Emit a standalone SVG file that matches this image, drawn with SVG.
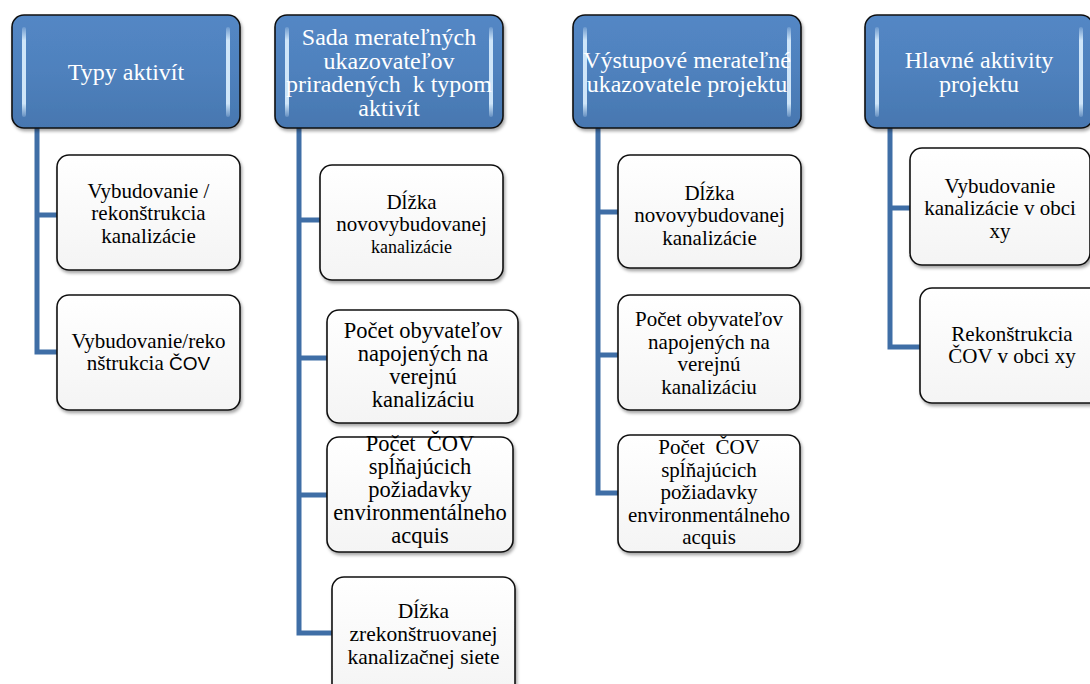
<svg xmlns="http://www.w3.org/2000/svg" width="1090" height="684" viewBox="0 0 1090 684">
<defs>
<linearGradient id="hdrFill" x1="0" y1="0" x2="0" y2="1">
<stop offset="0" stop-color="#5387C5"/>
<stop offset="0.5" stop-color="#4F81BD"/>
<stop offset="1" stop-color="#4777B0"/>
</linearGradient>
<linearGradient id="gloss" x1="0" y1="0" x2="0" y2="1">
<stop offset="0" stop-color="#D6EBFC" stop-opacity="0.2"/>
<stop offset="0.15" stop-color="#D6EBFC" stop-opacity="0.95"/>
<stop offset="0.85" stop-color="#D6EBFC" stop-opacity="0.95"/>
<stop offset="1" stop-color="#D6EBFC" stop-opacity="0.2"/>
</linearGradient>
<linearGradient id="childFill" x1="0" y1="0" x2="0" y2="1">
<stop offset="0" stop-color="#FFFFFF"/>
<stop offset="1" stop-color="#F4F4F4"/>
</linearGradient>
<filter id="shadow" x="-10%" y="-10%" width="125%" height="130%">
<feDropShadow dx="1.5" dy="2.5" stdDeviation="1.8" flood-color="#000" flood-opacity="0.35"/>
</filter>
</defs>
<style>
.hdr{fill:url(#hdrFill);stroke:#111;stroke-width:1.6;filter:url(#shadow)}
.gl{fill:url(#gloss)}
.box{fill:url(#childFill);stroke:#111;stroke-width:1.6;filter:url(#shadow)}
.ht{font-family:"Liberation Serif","Times New Roman",serif;font-size:24px;fill:#FFFFFF;text-anchor:middle;white-space:pre}
.ct{font-family:"Liberation Serif","Times New Roman",serif;font-size:21px;fill:#000;text-anchor:middle;white-space:pre}
.big{font-size:22.5px}
.mid{font-size:21.5px}
.sm{font-size:18px}
.sans{font-family:"Liberation Sans",Arial,sans-serif;font-size:19px}
.con{fill:none;stroke:#3F6EA6;stroke-width:5;stroke-linejoin:miter}
</style>
<rect width="1090" height="684" fill="#FFFFFF"/>

<g id="connectors">
<path class="con" d="M37,128 V352 H57 M37,215 H57"/>
<path class="con" d="M299,128 V633 H332 M299,220 H320 M299,358 H327 M299,495 H327"/>
<path class="con" d="M598,128 V493 H618 M598,212 H618 M598,355 H618"/>
<path class="con" d="M890,128 V347 H920 M890,208 H910"/>
</g>

<g id="h1">
<rect class="hdr" x="12" y="15" width="228" height="113" rx="12"/>
<rect class="gl" x="22" y="27" width="4" height="90" rx="2"/>
<rect class="gl" x="226" y="27" width="4" height="90" rx="2"/>
<text class="ht" x="126" y="80">Typy aktivít</text>
</g>
<g id="h2">
<rect class="hdr" x="275" y="15" width="228" height="113" rx="12"/>
<rect class="gl" x="285" y="27" width="4" height="90" rx="2"/>
<rect class="gl" x="489" y="27" width="4" height="90" rx="2"/>
<text class="ht" x="389" y="45">Sada merateľných</text>
<text class="ht" x="389" y="68.5">ukazovateľov</text>
<text class="ht" x="389" y="92">priradených  k typom</text>
<text class="ht" x="389" y="115.5">aktivít</text>
</g>
<g id="h3">
<rect class="hdr" x="573" y="15" width="228" height="113" rx="12"/>
<rect class="gl" x="583" y="27" width="4" height="90" rx="2"/>
<rect class="gl" x="787" y="27" width="4" height="90" rx="2"/>
<text class="ht" x="687" y="68">Výstupové merateľné</text>
<text class="ht" x="687" y="91.5">ukazovatele projektu</text>
</g>
<g id="h4">
<rect class="hdr" x="865" y="15" width="228" height="113" rx="12"/>
<rect class="gl" x="875" y="27" width="4" height="90" rx="2"/>
<rect class="gl" x="1079" y="27" width="4" height="90" rx="2"/>
<text class="ht" x="979" y="68">Hlavné aktivity</text>
<text class="ht" x="979" y="91.5">projektu</text>
</g>

<g id="c1a">
<rect class="box" x="57" y="155" width="183" height="115" rx="12"/>
<text class="ct" x="148.5" y="197.5">Vybudovanie /</text>
<text class="ct" x="148.5" y="220">rekonštrukcia</text>
<text class="ct" x="148.5" y="242.5">kanalizácie</text>
</g>
<g id="c1b">
<rect class="box" x="57" y="295" width="183" height="115" rx="12"/>
<text class="ct" x="148.5" y="347.5">Vybudovanie/reko</text>
<text class="ct" x="148.5" y="370">nštrukcia <tspan class="sans">ČOV</tspan></text>
</g>

<g id="c2a">
<rect class="box" x="320" y="165" width="183" height="115" rx="12"/>
<text class="ct" x="411.5" y="208.5">Dĺžka</text>
<text class="ct" x="411.5" y="231">novovybudovanej</text>
<text class="ct sm" x="411.5" y="253">kanalizácie</text>
</g>
<g id="c2b">
<rect class="box" x="327" y="310" width="191" height="113" rx="12"/>
<text class="ct big" x="423" y="338">Počet obyvateľov</text>
<text class="ct big" x="423" y="361">napojených na</text>
<text class="ct big" x="423" y="384">verejnú</text>
<text class="ct big" x="423" y="407">kanalizáciu</text>
</g>
<g id="c2c">
<rect class="box" x="327" y="437" width="186" height="115" rx="12"/>
<text class="ct big" x="420" y="451">Počet  ČOV</text>
<text class="ct big" x="420" y="474">spĺňajúcich</text>
<text class="ct big" x="420" y="497">požiadavky</text>
<text class="ct big" x="420" y="520">environmentálneho</text>
<text class="ct big" x="420" y="543">acquis</text>
</g>
<g id="c2d">
<rect class="box" x="332" y="577" width="183" height="120" rx="12"/>
<text class="ct mid" x="423.5" y="618">Dĺžka</text>
<text class="ct mid" x="423.5" y="641">zrekonštruovanej</text>
<text class="ct mid" x="423.5" y="664">kanalizačnej siete</text>
</g>

<g id="c3a">
<rect class="box" x="618" y="155" width="183" height="113" rx="12"/>
<text class="ct" x="709.5" y="199.5">Dĺžka</text>
<text class="ct" x="709.5" y="222">novovybudovanej</text>
<text class="ct" x="709.5" y="244.5">kanalizácie</text>
</g>
<g id="c3b">
<rect class="box" x="618" y="295" width="182" height="115" rx="12"/>
<text class="ct" x="709" y="326">Počet obyvateľov</text>
<text class="ct" x="709" y="348.5">napojených na</text>
<text class="ct" x="709" y="371">verejnú</text>
<text class="ct" x="709" y="393.5">kanalizáciu</text>
</g>
<g id="c3c">
<rect class="box" x="618" y="435" width="182" height="117" rx="12"/>
<text class="ct" x="709" y="454">Počet  ČOV</text>
<text class="ct" x="709" y="476.5">spĺňajúcich</text>
<text class="ct" x="709" y="499">požiadavky</text>
<text class="ct" x="709" y="521.5">environmentálneho</text>
<text class="ct" x="709" y="544">acquis</text>
</g>

<g id="c4a">
<rect class="box" x="910" y="148" width="180" height="117" rx="12"/>
<text class="ct" x="1000" y="192.5">Vybudovanie</text>
<text class="ct" x="1000" y="215">kanalizácie v obci</text>
<text class="ct" x="1000" y="237.5">xy</text>
</g>
<g id="c4b">
<rect class="box" x="920" y="288" width="184" height="115" rx="12"/>
<text class="ct" x="1012" y="340.5">Rekonštrukcia</text>
<text class="ct" x="1012" y="363">ČOV v obci xy</text>
</g>
</svg>
